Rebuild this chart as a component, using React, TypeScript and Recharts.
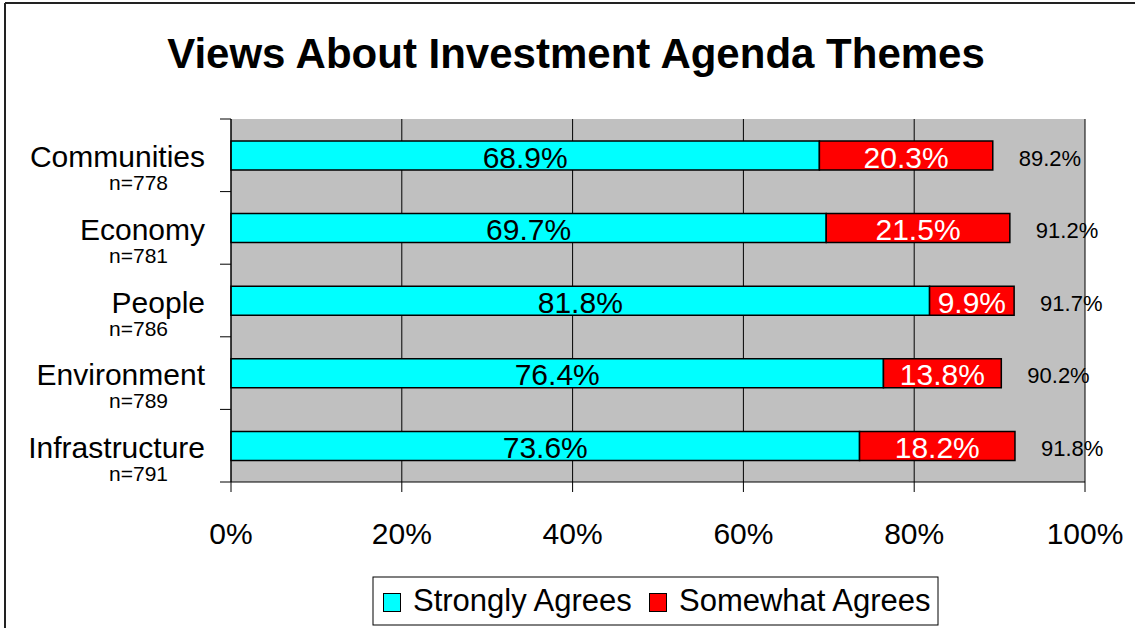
import {
  BarChart,
  Bar,
  XAxis,
  YAxis,
  CartesianGrid,
  LabelList,
} from 'recharts'

const categories = ['Communities', 'Economy', 'People', 'Environment', 'Infrastructure']
const sampleSizes = [778, 781, 786, 789, 791]
const stronglyAgrees = [68.9, 69.7, 81.8, 76.4, 73.6]
const somewhatAgrees = [20.3, 21.5, 9.9, 13.8, 18.2]
const totalLabels = ['89.2%', '91.2%', '91.7%', '90.2%', '91.8%']
const xTicks = [0, 20, 40, 60, 80, 100]

const data = categories.map((name, i) => ({
  name,
  strong: stronglyAgrees[i],
  somewhat: somewhatAgrees[i],
}))

const FONT = '"Liberation Sans", Arial, sans-serif'
const CYAN = '#00FFFF'
const RED = '#FF0000'

function CategoryTick(props: any) {
  const { x, y, payload, index } = props
  const half = payload?.offset ?? 0
  const last = index === categories.length - 1
  return (
    <g>
      <line x1={x - 11} x2={x} y1={y - half} y2={y - half} stroke="#000" />
      {last && <line x1={x - 11} x2={x} y1={y + half} y2={y + half} stroke="#000" />}
      <text x={x - 26} y={y + 12} textAnchor="end" fontSize={30} fill="#000" fontFamily={FONT}>
        {payload.value}
      </text>
      <text x={x - 63} y={y + 35} textAnchor="end" fontSize={21} fill="#000" fontFamily={FONT}>
        n={sampleSizes[index]}
      </text>
    </g>
  )
}

const insideLabel = (color: string) => (props: any) => {
  const vb = props.viewBox ?? props
  const { x, y, width, height } = vb
  return (
    <text
      x={x + width / 2}
      y={y + height / 2 + 12}
      textAnchor="middle"
      fontSize={30}
      fill={color}
      fontFamily={FONT}
    >
      {Number(props.value).toFixed(1)}%
    </text>
  )
}

function TotalLabel(props: any) {
  const vb = props.viewBox ?? props
  const { x, y, width, height } = vb
  return (
    <text x={x + width + 26} y={y + height / 2 + 10} fontSize={22} fill="#000" fontFamily={FONT}>
      {totalLabels[props.index]}
    </text>
  )
}

export default function App() {
  return (
    <div style={{ position: 'absolute', left: 0, top: 0, width: 1135, height: 628, background: '#fff', fontFamily: FONT }}>
      <svg width={1135} height={628} style={{ position: 'absolute', left: 0, top: 0 }}>
        <line x1={5} x2={5} y1={3} y2={628} stroke="#222" strokeWidth={2} />
        <line x1={5} x2={1135} y1={3} y2={3} stroke="#222" strokeWidth={2} />
        <text x={576} y={68} textAnchor="middle" fontSize={42} fontWeight="bold" fill="#000" fontFamily={FONT}>
          Views About Investment Agenda Themes
        </text>
        <rect x={373} y={577} width={565} height={48} fill="#fff" stroke="#000" strokeWidth={1} />
        <rect x={383.5} y={593.5} width={17} height={18} fill={CYAN} stroke="#000" strokeWidth={1} />
        <text x={413} y={611} fontSize={31} fill="#000" fontFamily={FONT}>Strongly Agrees</text>
        <rect x={649.5} y={593.5} width={17} height={18} fill={RED} stroke="#000" strokeWidth={1} />
        <text x={679} y={611} fontSize={31} fill="#000" fontFamily={FONT}>Somewhat Agrees</text>
      </svg>
      <div style={{ position: 'absolute', left: 0, top: 0 }}>
        <BarChart
          width={1135}
          height={628}
          data={data}
          layout="vertical"
          margin={{ top: 119, right: 50, bottom: 0, left: 0 }}
          style={{ fontFamily: FONT }}
        >
          <CartesianGrid fill="#C0C0C0" horizontal={false} stroke="#000" strokeOpacity={1} />
          <XAxis
            type="number"
            domain={[0, 100]}
            ticks={xTicks}
            tickFormatter={(v: number) => `${v}%`}
            height={146}
            tick={{ fontSize: 30, fill: '#000' }}
            tickSize={10}
            tickMargin={31}
            axisLine={{ stroke: '#000' }}
            tickLine={{ stroke: '#000' }}
            interval={0}
          />
          <XAxis
            xAxisId="top"
            orientation="top"
            type="number"
            domain={[0, 100]}
            height={0}
            tick={false}
            tickLine={false}
            axisLine={{ stroke: '#8C8C8C', strokeWidth: 2 }}
          />
          <YAxis
            type="category"
            dataKey="name"
            width={231}
            tickLine={false}
            tickSize={0}
            tickMargin={0}
            axisLine={{ stroke: '#000' }}
            tick={<CategoryTick />}
            interval={0}
          />
          <YAxis
            yAxisId="right"
            orientation="right"
            type="category"
            dataKey="name"
            width={0}
            tick={false}
            tickLine={false}
            axisLine={{ stroke: '#8C8C8C', strokeWidth: 2 }}
          />
          <Bar dataKey="strong" stackId="a" fill={CYAN} stroke="#000" strokeWidth={1.5} barSize={29} isAnimationActive={false}>
            <LabelList dataKey="strong" content={insideLabel('#000')} />
          </Bar>
          <Bar dataKey="somewhat" stackId="a" fill={RED} stroke="#000" strokeWidth={1.5} barSize={29} isAnimationActive={false}>
            <LabelList dataKey="somewhat" content={insideLabel('#fff')} />
            <LabelList dataKey="somewhat" content={TotalLabel} />
          </Bar>
        </BarChart>
      </div>
    </div>
  )
}
